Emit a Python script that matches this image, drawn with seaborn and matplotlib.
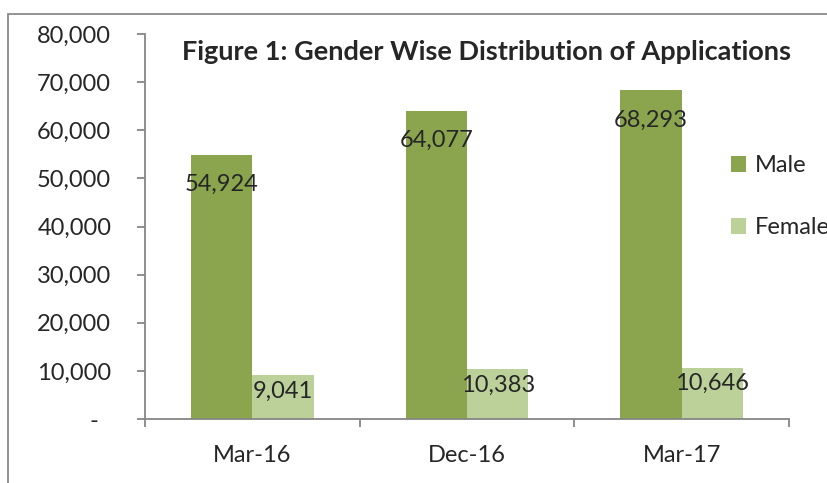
import pandas as pd
import seaborn as sns
import matplotlib.pyplot as plt
from matplotlib.patches import Rectangle, Patch

# data
periods = ['Mar-16', 'Dec-16', 'Mar-17']
male = [54924, 64077, 68293]
female = [9041, 10383, 10646]
series = ['Male', 'Female']
y_ticks = [0, 10000, 20000, 30000, 40000, 50000, 60000, 70000, 80000]

colors = {'Male': '#8BA54F', 'Female': '#BCD09A'}

df = pd.DataFrame({
    'period': periods * 2,
    'count': male + female,
    'gender': ['Male'] * len(periods) + ['Female'] * len(periods),
})

sns.set_style('white')
plt.rcParams['font.family'] = ['Lato', 'DejaVu Sans']

fig = plt.figure(figsize=(8.27, 4.83), dpi=100)
ax = fig.add_axes([145 / 827, 1 - 419 / 483, (789 - 145) / 827, (419 - 34) / 483])

sns.barplot(data=df, x='period', y='count', hue='gender', hue_order=series,
            palette=colors, width=0.5714, gap=0, saturation=1, ax=ax,
            legend=False, linewidth=0)

ax.set_xlim(-0.5, 2.5)
ax.set_ylim(0, 80000)
ax.set_xlabel('')
ax.set_ylabel('')

axis_grey = '#868686'
for s in ['top', 'right']:
    ax.spines[s].set_visible(False)
for s in ['left', 'bottom']:
    ax.spines[s].set_color(axis_grey)
    ax.spines[s].set_linewidth(1.3)

ax.set_yticks(y_ticks)
ax.set_yticklabels(['-  '] + [f'{v:,}' for v in y_ticks[1:]])
ax.tick_params(axis='y', direction='out', length=5.8, width=1.3, color=axis_grey,
               pad=18.5, labelsize=17, left=True)

# category boundary ticks as major, labels on minor ticks
ax.set_xticks([-0.5, 0.5, 1.5, 2.5])
ax.set_xticklabels([])
ax.set_xticks(range(len(periods)), minor=True)
ax.set_xticklabels(periods, minor=True)
ax.tick_params(axis='x', which='major', direction='out', length=5.8, width=1.3,
               color=axis_grey, bottom=True)
ax.tick_params(axis='x', which='minor', length=0, pad=19, labelsize=17)

pads = {'Male': -29, 'Female': -19}
for cont, name in zip(ax.containers, series):
    ax.bar_label(cont, fmt='{:,.0f}', padding=pads[name], fontsize=17)

fig.text(487 / 827, 1 - 52 / 483, 'Figure 1: Gender Wise Distribution of Applications',
         ha='center', va='center', fontsize=19.5, fontweight='bold')

handles = [Patch(facecolor=colors[n], edgecolor='none') for n in series]
fig.legend(handles, series, loc='upper left', bbox_to_anchor=(731 / 827, 1 - 155 / 483),
           frameon=False, fontsize=17, handlelength=0.65, handleheight=0.65,
           handletextpad=0.35, labelspacing=1.75, borderpad=0, borderaxespad=0)

fig.patches.append(Rectangle((8 / 827, -0.1), 1.2, 1.1 - 14 / 483,
                             transform=fig.transFigure, fill=False,
                             edgecolor='#8a8a8a', linewidth=1.3))

fig.savefig('out.png', dpi=100)
